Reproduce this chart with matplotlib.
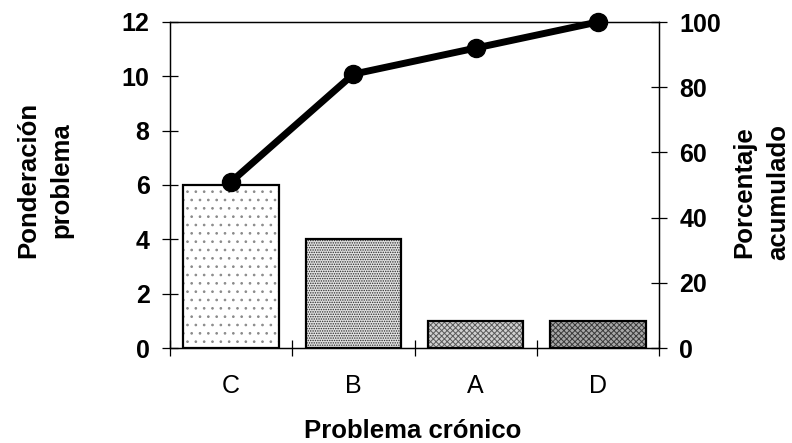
import matplotlib
matplotlib.use("Agg")
import matplotlib.pyplot as plt
import numpy as np

categories = ["C", "B", "A", "D"]
weights = [6, 4, 1, 1]
cum_pct = [51, 84, 92, 100]
left_ticks = [0, 2, 4, 6, 8, 10, 12]
right_ticks = [0, 20, 40, 60, 80, 100]

plt.rcParams['font.family'] = ['Liberation Sans', 'DejaVu Sans']
plt.rcParams['hatch.linewidth'] = 0.7

fig = plt.figure(figsize=(7.92, 4.43), dpi=100)
ax = fig.add_axes([170/792, 95/443, 489/792, 326/443])

x = np.arange(len(categories))
hatches = ['..', '.......', 'xxxxxx', 'xxxxxx']
faces = ['white', '#e2e2e2', '#d0d0d0', '#a8a8a8']
hcols = ['#8a8a8a', '#2a2a2a', '#5a5a5a', '#3a3a3a']
for i in range(len(categories)):
    ax.bar(x[i], weights[i], width=0.78, color=faces[i], hatch=hatches[i],
           edgecolor=hcols[i], linewidth=0, zorder=2)
ax.bar(x, weights, width=0.78, fill=False, edgecolor='black', linewidth=1.6, zorder=3)

ax.set_xlim(-0.5, len(categories) - 0.5)
ax.set_ylim(0, 12)
ax.set_yticks(left_ticks)
ax.set_yticklabels([str(t) for t in left_ticks], fontsize=18, fontweight='bold')
ax.tick_params(axis='y', direction='inout', length=11.5, width=0.9, pad=9)

ax.set_xticks(np.arange(len(categories) + 1) - 0.5)
ax.set_xticklabels([])
ax.tick_params(axis='x', which='major', direction='inout', length=11.5, width=0.9)
ax.set_xticks(x, minor=True)
ax.set_xticklabels(categories, minor=True, fontsize=18)
ax.tick_params(axis='x', which='minor', length=0, pad=19)

for s in ax.spines.values():
    s.set_linewidth(0.9)

ax2 = ax.twinx()
ax2.set_ylim(0, 100)
ax2.set_yticks(right_ticks)
ax2.set_yticklabels([str(t) for t in right_ticks], fontsize=18, fontweight='bold')
ax2.tick_params(axis='y', direction='inout', length=11.5, width=0.9, pad=9)
for s in ax2.spines.values():
    s.set_linewidth(0.9)
ax2.plot(x, cum_pct, color='black', linewidth=5, marker='o', markersize=13,
         clip_on=False, zorder=5)

fig.text(45/792, 1 - 180/443, "Ponderación\nproblema", rotation=90,
         ha='center', va='center', multialignment='center', linespacing=1.5,
         fontsize=18.5, fontweight='bold')
fig.text(761/792, 1 - 192/443, "Porcentaje\nacumulado", rotation=90,
         ha='center', va='center', multialignment='center', linespacing=1.5,
         fontsize=18.5, fontweight='bold')
fig.text(413/792, 1 - 437.5/443, "Problema crónico", ha='center', va='baseline',
         fontsize=18.5, fontweight='bold')

fig.savefig("out.png", dpi=100)
